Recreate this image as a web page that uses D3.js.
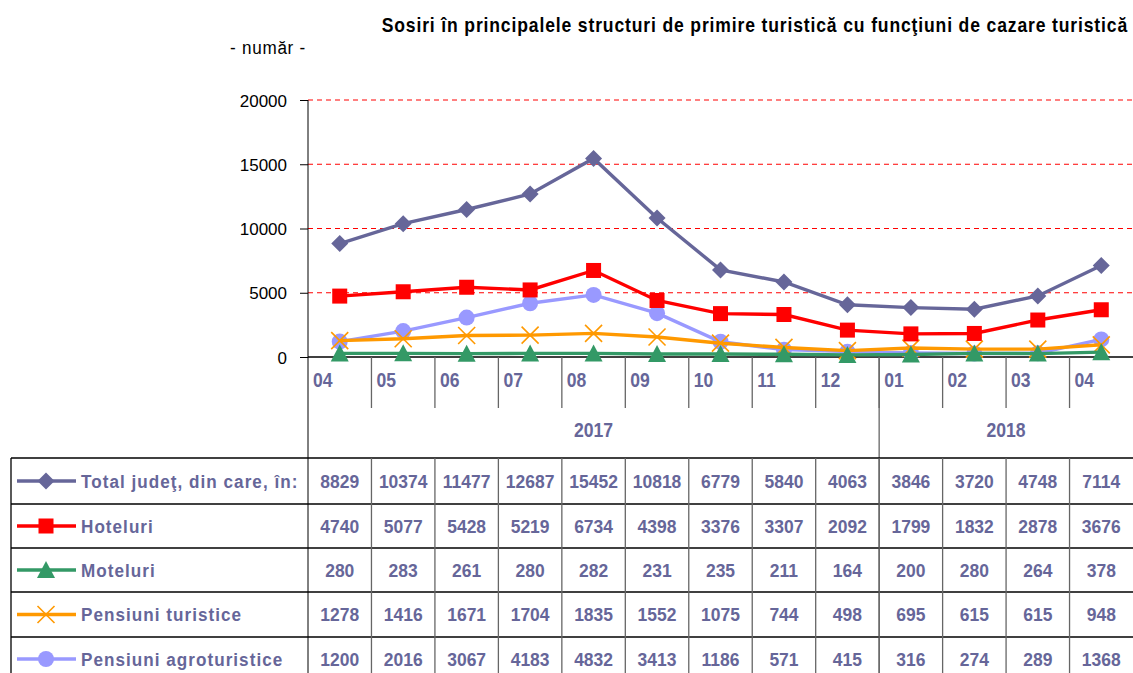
<!DOCTYPE html>
<html><head><meta charset="utf-8">
<script src="https://cdn.jsdelivr.net/npm/d3@7/dist/d3.min.js"></script>
<style>
body{margin:0;background:#fff;}
svg{font-family:"Liberation Sans",Arial,sans-serif;}
</style></head><body>
<svg id="c" width="1133" height="673"></svg>
<script>
const months = ["04","05","06","07","08","09","10","11","12","01","02","03","04"];
const years = [{label:"2017", from:0, to:9},{label:"2018", from:9, to:13}];
const seriesNames = ["Total judeţ, din care, în:","Hoteluri","Moteluri","Pensiuni turistice","Pensiuni agroturistice"];
const total = [8829,10374,11477,12687,15452,10818,6779,5840,4063,3846,3720,4748,7114];
const hoteluri = [4740,5077,5428,5219,6734,4398,3376,3307,2092,1799,1832,2878,3676];
const moteluri = [280,283,261,280,282,231,235,211,164,200,280,264,378];
const pensiuni = [1278,1416,1671,1704,1835,1552,1075,744,498,695,615,615,948];
const agro = [1200,2016,3067,4183,4832,3413,1186,571,415,316,274,289,1368];
const yTicks = [0,5000,10000,15000,20000];
const colors = ["#666699","#FF0000","#339966","#FF9900","#9999FF"];
const markers = ["diamond","square","triangle","x","circle"];
const data = [total,hoteluri,moteluri,pensiuni,agro];

const svg = d3.select("#c");
const textCol = "#666699";
const x0 = 308, x1 = 1133;
const x = d3.scaleBand().domain(d3.range(months.length)).range([x0, x1]).padding(0);
const y = d3.scaleLinear().domain([0,20000]).range([357,100]);

// condensed text helper
function ctext(sel, tx, ty, str, opts){
  const t = sel.append("text").attr("transform",`translate(${tx},${ty}) scale(${opts.sx||1},1)`)
    .attr("font-size",opts.fs).attr("font-weight",opts.bold?"bold":"normal")
    .attr("fill",opts.fill||"#000").attr("text-anchor",opts.anchor||"start").text(str);
  if(opts.dy) t.attr("dy",opts.dy);
  if(opts.ls) t.attr("letter-spacing",opts.ls);
  return t;
}

// title
ctext(svg, 1128, 32, "Sosiri în principalele structuri de primire turistică cu funcţiuni de cazare turistică",
  {fs:19.5, bold:true, anchor:"end", sx:0.9, ls:0.95});
ctext(svg, 268, 54, "- număr -", {fs:19, anchor:"middle", sx:0.9, ls:0.8});

// gridlines
svg.append("g").selectAll("line").data(yTicks.filter(d=>d>0)).join("line")
  .attr("x1",x0).attr("x2",x1).attr("y1",d=>y(d)).attr("y2",d=>y(d))
  .attr("stroke","#FF0000").attr("stroke-width",1).attr("stroke-dasharray","5,4");

// y axis
const yAxis = d3.axisLeft(y).tickValues(yTicks).tickSize(8).tickFormat(d3.format("d"));
const gy = svg.append("g").attr("transform",`translate(${x0},0)`).call(yAxis);
gy.select(".domain").remove();
gy.selectAll(".tick line").attr("stroke","#000");
gy.selectAll(".tick text").attr("font-size",17).attr("fill","#000").attr("x",-21).attr("dy","0.36em")
  .attr("font-family","'Liberation Sans',Arial,sans-serif");
svg.append("line").attr("x1",x0).attr("x2",x0).attr("y1",100).attr("y2",680).attr("stroke","#000");
// zero line
svg.append("line").attr("x1",x0).attr("x2",x1).attr("y1",y(0)).attr("y2",y(0)).attr("stroke","#000").attr("stroke-width",1.5);

// month ticks
svg.append("g").selectAll("line").data(d3.range(1,months.length)).join("line")
  .attr("x1",d=>x(d)).attr("x2",d=>x(d)).attr("y1",y(0)).attr("y2",408)
  .attr("stroke","#666").attr("stroke-width",1.3);
const gm = svg.append("g");
months.forEach((m,i)=>ctext(gm, x(i)+5, 387, m, {fs:19.5, bold:true, fill:textCol, sx:0.9}));
// year separator
years.slice(1).forEach(yr=>{
  svg.append("line").attr("x1",x(yr.from)).attr("x2",x(yr.from)).attr("y1",y(0)).attr("y2",680)
    .attr("stroke","#666").attr("stroke-width",1.3);
});
const gyr = svg.append("g");
years.forEach(d=>{
  const cx = (x(d.from) + (d.to>=months.length? x1 : x(d.to)))/2;
  ctext(gyr, cx, 437, d.label, {fs:20, bold:true, fill:textCol, sx:0.88, anchor:"middle"});
});

// marker drawer
function drawMarker(g, type, color, cx, cy){
  if(type==="diamond"){
    g.append("path").attr("d",`M${cx},${cy-8.5}L${cx+8.5},${cy}L${cx},${cy+8.5}L${cx-8.5},${cy}Z`).attr("fill",color);
  } else if(type==="square"){
    g.append("rect").attr("x",cx-7.5).attr("y",cy-7.5).attr("width",15).attr("height",15).attr("fill",color);
  } else if(type==="triangle"){
    g.append("path").attr("d",`M${cx},${cy-9}L${cx+9},${cy+8}L${cx-9},${cy+8}Z`).attr("fill",color);
  } else if(type==="x"){
    g.append("path").attr("d",`M${cx-8.5},${cy-8.5}L${cx+8.5},${cy+8.5}M${cx+8.5},${cy-8.5}L${cx-8.5},${cy+8.5}`)
      .attr("stroke",color).attr("stroke-width",1.6).attr("fill","none");
  } else {
    g.append("circle").attr("cx",cx).attr("cy",cy).attr("r",8).attr("fill",color);
  }
}

// lines
const line = d3.line().x((d,i)=>x(i)+x.bandwidth()/2).y(d=>y(d));
const order = [4,3,2,1,0];
order.forEach(si=>{
  const g = svg.append("g");
  g.append("path").datum(data[si]).attr("d",line).attr("fill","none")
    .attr("stroke",colors[si]).attr("stroke-width",3.4);
  data[si].forEach((v,i)=>drawMarker(g, markers[si], colors[si], x(i)+x.bandwidth()/2, y(v)));
});

// table
const rowTops = [458,504,548,592,637,681];
const tbl = svg.append("g");
rowTops.forEach(t=>{
  tbl.append("line").attr("x1",11).attr("x2",x1).attr("y1",t).attr("y2",t).attr("stroke","#000").attr("stroke-width",1.3);
});
tbl.append("line").attr("x1",11).attr("x2",11).attr("y1",458).attr("y2",681).attr("stroke","#000").attr("stroke-width",1.3);
d3.range(1,months.length).forEach(i=>{
  tbl.append("line").attr("x1",x(i)).attr("x2",x(i)).attr("y1",458).attr("y2",681).attr("stroke","#666").attr("stroke-width",1.3);
});
seriesNames.forEach((name,si)=>{
  const cy = (rowTops[si]+rowTops[si+1])/2;
  const g = tbl.append("g");
  g.append("line").attr("x1",17).attr("x2",76).attr("y1",cy).attr("y2",cy).attr("stroke",colors[si]).attr("stroke-width",3.4);
  drawMarker(g, markers[si], colors[si], 46, cy);
  ctext(g, 81, cy, name, {fs:19, bold:true, fill:textCol, sx:0.9, ls:1.15, dy:"0.36em"});
  data[si].forEach((v,i)=>ctext(g, x(i)+x.bandwidth()/2, cy, v, {fs:19, bold:true, fill:textCol, sx:0.92, anchor:"middle", dy:"0.36em"}));
});
</script>
</body></html>
